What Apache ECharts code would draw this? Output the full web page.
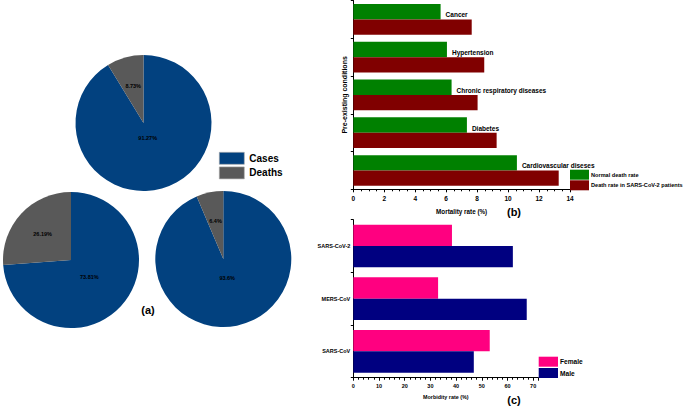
<!DOCTYPE html>
<html><head><meta charset="utf-8">
<script src="https://cdn.jsdelivr.net/npm/echarts@6/dist/echarts.min.js"></script>
<style>html,body{margin:0;padding:0;background:#fff}#c{width:685px;height:408px}</style>
</head><body><div id="c"></div>
<script>
// ---- data ----
const pieNames = ['Cases', 'Deaths'];
const pieTop = [91.27, 8.73];
const pieLeft = [73.81, 26.19];
const pieRight = [93.6, 6.4];

const conditions = ['Cancer', 'Hypertension', 'Chronic respiratory diseases', 'Diabetes', 'Cardiovascular diseses'];
const normalDeath = [5.64, 6.05, 6.35, 7.34, 10.57];
const covidDeath = [7.65, 8.46, 8.03, 9.26, 13.27];
const seriesB = ['Normal death rate', 'Death rate in SARS-CoV-2 patients'];

const viruses = ['SARS-CoV-2', 'MERS-CoV', 'SARS-CoV'];
const female = [38.4, 33.0, 53.1];
const male = [62.1, 67.5, 46.9];
const seriesC = ['Female', 'Male'];

// ---- layout ----
const FONT = '"Liberation Sans", Arial, sans-serif';
const BLUE = '#02417f', GRAY = '#595959';
const R = 68;

function makePie(values, center, dists) {
  const total = values.reduce((a, b) => a + b, 0);
  const data = values.map((v, i) => ({ name: pieNames[i], value: v }));
  return {
    type: 'pie', radius: [0, R], center: center, startAngle: 90, clockwise: true,
    animation: false, silent: true,
    itemStyle: { borderWidth: 0 },
    color: [BLUE, GRAY],
    label: { show: true, position: 'inside', formatter: p => p.value + '%',
      fontFamily: FONT, fontSize: 5.5, fontWeight: 'bold', color: '#000' },
    labelLine: { show: false },
    labelLayout: function (p) {
      let cum = 0;
      for (let i = 0; i < p.dataIndex; i++) cum += values[i];
      const th = 2 * Math.PI * (cum + values[p.dataIndex] / 2) / total;
      const d = dists[p.dataIndex];
      return { x: center[0] + d * Math.sin(th), y: center[1] - d * Math.cos(th), align: 'center', verticalAlign: 'middle' };
    },
    data: data
  };
}

const axisLineStyle = { lineStyle: { color: '#000', width: 1 } };

const option = {
  animation: false,
  backgroundColor: '#fff',
  color: [BLUE, GRAY],
  legend: [
    { data: pieNames, orient: 'vertical', left: 219, top: 152, padding: 0,
      itemWidth: 25, itemHeight: 12, itemGap: 2, icon: 'rect',
      itemStyle: { borderColor: '#aaa', borderWidth: 0.6 },
      textStyle: { fontFamily: FONT, fontSize: 10, fontWeight: 'bold', color: '#000' } },
    { data: seriesB, orient: 'vertical', left: 570, top: 169.7, padding: 0,
      itemWidth: 19, itemHeight: 10, itemGap: 0.6, icon: 'rect',
      textStyle: { fontFamily: FONT, fontSize: 5.6, fontWeight: 'bold', color: '#000', padding: [0, 0, 0, -3] } },
    { data: seriesC, orient: 'vertical', left: 538.7, top: 356.7, padding: 0,
      itemWidth: 19.3, itemHeight: 10, itemGap: 1.3, icon: 'rect',
      textStyle: { fontFamily: FONT, fontSize: 6.6, fontWeight: 'bold', color: '#000', padding: [0, 0, 0, -3] } }
  ],
  grid: [
    { left: 353.3, top: 0.5, width: 216.7, height: 188.8, containLabel: false },
    { left: 353.3, top: 219.7, width: 185, height: 158, containLabel: false }
  ],
  xAxis: [
    { type: 'value', gridIndex: 0, min: 0, max: 14, interval: 2,
      name: 'Mortality rate (%)', nameLocation: 'middle', nameGap: 19.5,
      nameTextStyle: { fontFamily: FONT, fontSize: 6.3, fontWeight: 'bold', color: '#000' },
      axisLine: { show: true, ...axisLineStyle },
      axisTick: { show: true, length: 3, lineStyle: { color: '#000' } },
      minorTick: { show: true, splitNumber: 4, length: 2, lineStyle: { color: '#000' } },
      splitLine: { show: false },
      axisLabel: { margin: 6, fontFamily: FONT, fontSize: 6.5, fontWeight: 'bold', color: '#000' } },
    { type: 'value', gridIndex: 1, min: 0, max: 72, interval: 10,
      name: 'Morbidity rate (%)', nameLocation: 'middle', nameGap: 17,
      nameTextStyle: { fontFamily: FONT, fontSize: 5.4, fontWeight: 'bold', color: '#000' },
      axisLine: { show: true, ...axisLineStyle },
      axisTick: { show: true, length: 3, lineStyle: { color: '#000' } },
      minorTick: { show: true, splitNumber: 5, length: 2, lineStyle: { color: '#000' } },
      splitLine: { show: false },
      axisLabel: { margin: 5, showMaxLabel: false, fontFamily: FONT, fontSize: 5.5, fontWeight: 'bold', color: '#000' } }
  ],
  yAxis: [
    { type: 'category', gridIndex: 0, data: conditions, inverse: true,
      name: 'Pre-existing conditions', nameLocation: 'middle', nameGap: 5,
      nameTextStyle: { fontFamily: FONT, fontSize: 7, fontWeight: 'bold', color: '#000' },
      axisLine: { show: true, ...axisLineStyle },
      axisTick: { show: true, length: 2.5, lineStyle: { color: '#000' } },
      axisLabel: { show: false } },
    { type: 'category', gridIndex: 1, data: viruses, inverse: true,
      axisLine: { show: true, ...axisLineStyle },
      axisTick: { show: true, length: 2.5, lineStyle: { color: '#000' } },
      axisLabel: { margin: 3, fontFamily: FONT, fontSize: 5.5, fontWeight: 'bold', color: '#000' } }
  ],
  series: [
    makePie(pieTop, [143.5, 123], [15.5, 38]),
    makePie(pieLeft, [71, 260], [25, 38.7]),
    makePie(pieRight, [223.3, 259], [19.5, 39]),
    { type: 'bar', name: seriesB[0], xAxisIndex: 0, yAxisIndex: 0, data: normalDeath,
      barCategoryGap: '19%', barGap: '0%', itemStyle: { color: '#008000' },
      label: { show: true, position: 'right', distance: 5, offset: [0, 3],
        formatter: p => '{k|' + p.name + '}',
        rich: { k: { fontFamily: FONT, fontSize: 6.5, fontWeight: 'bold', color: '#000000' } },
        fontFamily: FONT, fontSize: 6.5, fontWeight: 'bold', color: '#000000',
        textBorderWidth: 0 } },
    { type: 'bar', name: seriesB[1], xAxisIndex: 0, yAxisIndex: 0, data: covidDeath,
      barCategoryGap: '19%', barGap: '0%', itemStyle: { color: '#800000' } },
    { type: 'bar', name: seriesC[0], xAxisIndex: 1, yAxisIndex: 1, data: female,
      barCategoryGap: '19%', barGap: '0%', itemStyle: { color: '#ff0080' } },
    { type: 'bar', name: seriesC[1], xAxisIndex: 1, yAxisIndex: 1, data: male,
      barCategoryGap: '19%', barGap: '0%', itemStyle: { color: '#000080' } }
  ],
  graphic: [
    { type: 'text', x: 148, y: 310, style: { text: '(a)', fontFamily: FONT, fontSize: 11, fontWeight: 'bold', fill: '#000', align: 'center', verticalAlign: 'middle' } },
    { type: 'text', x: 514, y: 212, style: { text: '(b)', fontFamily: FONT, fontSize: 11, fontWeight: 'bold', fill: '#000', align: 'center', verticalAlign: 'middle' } },
    { type: 'text', x: 514, y: 400, style: { text: '(c)', fontFamily: FONT, fontSize: 11, fontWeight: 'bold', fill: '#000', align: 'center', verticalAlign: 'middle' } }
  ]
};

const chart = echarts.init(document.getElementById('c'), null, { renderer: 'svg' });
chart.setOption(option);
</script>
</body></html>
